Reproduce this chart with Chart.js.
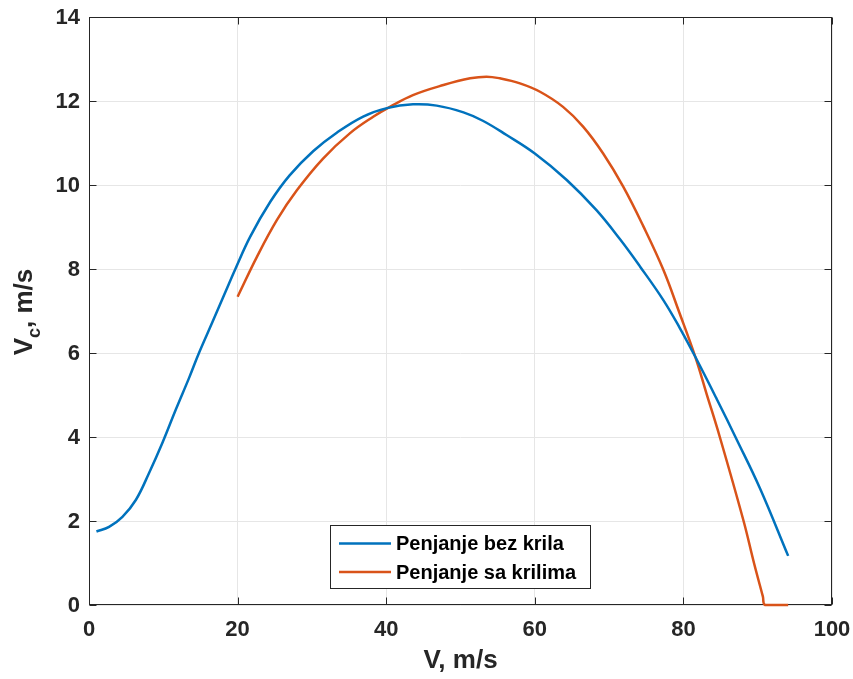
<!DOCTYPE html>
<html><head><meta charset="utf-8">
<script src="https://cdn.jsdelivr.net/npm/chart.js@4/dist/chart.umd.min.js"></script>
<style>html,body{margin:0;padding:0;background:#fff}canvas{display:block}</style>
</head><body><canvas id="c" width="853" height="679"></canvas>
<script>
const xTicks = [0, 20, 40, 60, 80, 100];
const yTicks = [0, 2, 4, 6, 8, 10, 12, 14];
const seriesNames = ['Penjanje bez krila', 'Penjanje sa krilima'];
const xTitle = 'V, m/s';
const yTitleMain = 'V', yTitleSub = 'c', yTitleRest = ', m/s';

const vBlue  = [1.0, 2.7, 4.5, 6.3, 8.1, 9.9, 11.7, 13.5, 14.8, 16.6, 18.4, 19.7, 21.7, 24.4, 27.0, 30.2, 33.3, 36.9, 40.1, 43.6, 46.8, 50.4, 53.0, 56.2, 60.0, 64.3, 68.3, 71.5, 74.2, 77.3, 79.5, 81.6, 84.5, 87.2, 90.3, 94.1];
const vcBlue = [1.75, 1.86, 2.10, 2.50, 3.15, 3.87, 4.66, 5.42, 6.0, 6.73, 7.47, 8.0, 8.77, 9.60, 10.23, 10.81, 11.24, 11.63, 11.83, 11.92, 11.89, 11.73, 11.53, 11.19, 10.75, 10.12, 9.40, 8.70, 8.05, 7.26, 6.60, 5.91, 4.90, 3.93, 2.78, 1.17];

const vOrange  = [20.0, 22.6, 25.3, 28.0, 31.5, 35.1, 38.3, 40.5, 43.6, 47.7, 51.3, 53.5, 55.3, 58.0, 60.7, 63.8, 66.5, 69.2, 71.9, 74.6, 77.3, 79.5, 81.6, 83.1, 84.9, 88.1, 89.5, 90.7, 91.0, 94.1];
const vcOrange = [7.34, 8.29, 9.17, 9.88, 10.63, 11.23, 11.63, 11.86, 12.14, 12.38, 12.54, 12.58, 12.54, 12.42, 12.22, 11.86, 11.39, 10.75, 9.96, 9.02, 7.98, 6.94, 5.91, 5.04, 4.0, 2.0, 1.0, 0.2, 0, 0];

const colors = ['#0072BD', '#D95319'];
const FONT = '"Liberation Sans", Arial, Helvetica, sans-serif';
const TXT = '#262626';

function pts(xs, ys) { return xs.map((x, i) => ({x: x, y: ys[i]})); }

const framePlugin = {
  id: 'frame',
  beforeDatasetsDraw(chart) {
    const {ctx, chartArea: a, scales: {x, y}} = chart;
    ctx.save();
    ctx.strokeStyle = TXT;
    ctx.lineWidth = 1;
    const L = Math.round(a.left) + 0.5, R = Math.round(a.right) - 0.5;
    const T = Math.round(a.top) + 0.5, B = Math.round(a.bottom) - 0.5;
    ctx.strokeRect(L, T, R - L, B - T);
    const tl = 7;
    ctx.beginPath();
    xTicks.forEach(v => {
      const px = Math.round(x.getPixelForValue(v)) + 0.5;
      ctx.moveTo(px, B); ctx.lineTo(px, B - tl);
      ctx.moveTo(px, T); ctx.lineTo(px, T + tl);
    });
    yTicks.forEach(v => {
      const py = Math.round(y.getPixelForValue(v)) + 0.5;
      ctx.moveTo(L, py); ctx.lineTo(L + tl, py);
      ctx.moveTo(R, py); ctx.lineTo(R - tl, py);
    });
    ctx.stroke();
    ctx.fillStyle = TXT;
    ctx.font = 'bold 22px ' + FONT;
    ctx.textBaseline = 'middle';
    ctx.textAlign = 'center';
    xTicks.forEach(v => ctx.fillText(String(v), x.getPixelForValue(v), a.bottom + 25));
    ctx.textAlign = 'right';
    yTicks.forEach(v => ctx.fillText(String(v), a.left - 9, y.getPixelForValue(v) + 1));
    ctx.restore();
  },
  afterDraw(chart) {
    const {ctx, chartArea: a} = chart;
    ctx.save();
    ctx.fillStyle = TXT;
    ctx.font = 'bold 26px ' + FONT;
    ctx.textAlign = 'center';
    ctx.textBaseline = 'middle';
    ctx.fillText(xTitle, (a.left + a.right) / 2, 661);
    ctx.translate(32, 312);
    ctx.rotate(-Math.PI / 2);
    ctx.textAlign = 'left';
    ctx.textBaseline = 'alphabetic';
    const big = 'bold 26px ' + FONT, small = 'bold 18px ' + FONT;
    ctx.font = big; const w1 = ctx.measureText(yTitleMain).width;
    ctx.font = small; const w2 = ctx.measureText(yTitleSub).width;
    ctx.font = big; const w3 = ctx.measureText(yTitleRest).width;
    let sx = -(w1 + w2 + w3) / 2;
    ctx.font = big; ctx.fillText(yTitleMain, sx, 0); sx += w1;
    ctx.font = small; ctx.fillText(yTitleSub, sx, 8); sx += w2;
    ctx.font = big; ctx.fillText(yTitleRest, sx, 0);
    ctx.restore();

    ctx.save();
    const bx = 330.5, by = 525.5, bw = 260, bh = 63;
    ctx.fillStyle = '#fff';
    ctx.fillRect(bx, by, bw, bh);
    ctx.strokeStyle = TXT;
    ctx.lineWidth = 1;
    ctx.strokeRect(bx, by, bw, bh);
    const rows = [543.5, 572];
    chart.data.datasets.forEach((ds, i) => {
      ctx.strokeStyle = ds.borderColor;
      ctx.lineWidth = 2.5;
      ctx.beginPath();
      ctx.moveTo(339, rows[i]); ctx.lineTo(391, rows[i]);
      ctx.stroke();
      ctx.fillStyle = '#000';
      ctx.font = 'bold 20px ' + FONT;
      ctx.textAlign = 'left';
      ctx.textBaseline = 'middle';
      ctx.fillText(ds.label, 396, rows[i] + 1);
    });
    ctx.restore();
  }
};

new Chart(document.getElementById('c'), {
  type: 'line',
  data: {
    datasets: [
      {label: seriesNames[0], data: pts(vBlue, vcBlue), borderColor: colors[0], borderWidth: 2.5, pointRadius: 0, tension: 0.4, fill: false, clip: 6},
      {label: seriesNames[1], data: pts(vOrange, vcOrange), borderColor: colors[1], borderWidth: 2.5, pointRadius: 0, tension: 0.4, fill: false, clip: 6}
    ]
  },
  options: {
    responsive: false,
    animation: false,
    devicePixelRatio: 1,
    layout: {padding: {left: 0, top: 17, right: 21, bottom: 0}},
    plugins: {legend: {display: false}, tooltip: {enabled: false}},
    scales: {
      x: {
        type: 'linear', min: 0, max: 100,
        afterBuildTicks: s => { s.ticks = xTicks.map(v => ({value: v})); },
        afterFit: s => { s.height = 74; },
        grid: {color: '#e6e6e6', lineWidth: 1, drawTicks: false},
        border: {display: false},
        ticks: {display: false}
      },
      y: {
        type: 'linear', min: 0, max: 14,
        afterBuildTicks: s => { s.ticks = yTicks.map(v => ({value: v})); },
        afterFit: s => { s.width = 89; },
        grid: {color: '#e6e6e6', lineWidth: 1, drawTicks: false},
        border: {display: false},
        ticks: {display: false}
      }
    }
  },
  plugins: [framePlugin]
});
</script>
</body></html>
